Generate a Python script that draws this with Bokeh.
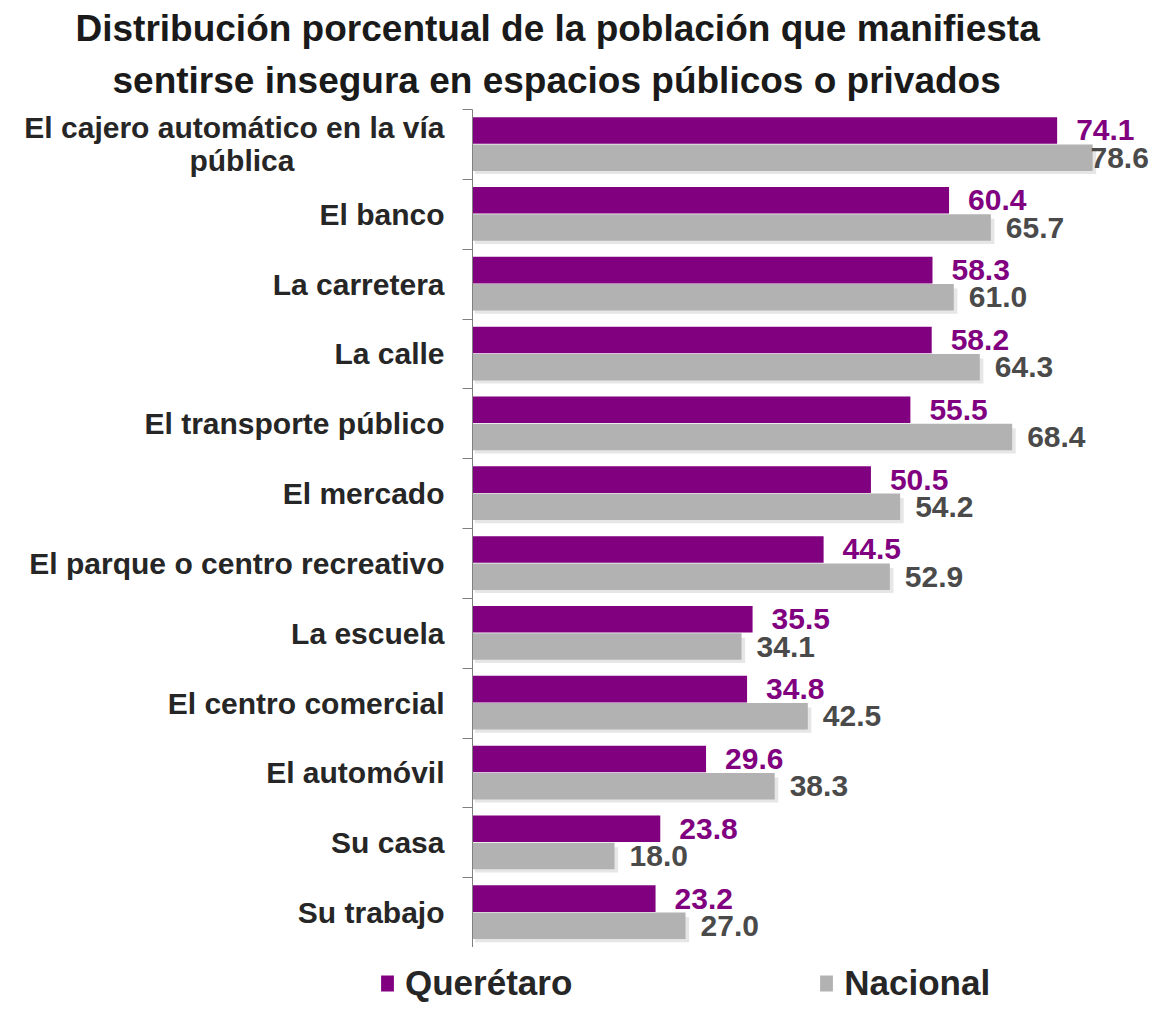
from bokeh.plotting import figure
from bokeh.layouts import column, row
from bokeh.models import (Range1d, FixedTicker, ColumnDataSource, Legend, LegendItem, Title)
from bokeh.core.properties import value
from bokeh.embed import file_html
from bokeh.resources import INLINE

NB = "\u00a0"
categories = ["El cajero automático en la vía\n" + NB * 18 + "pública" + NB * 18, "El banco", "La carretera", "La calle",
              "El transporte público", "El mercado", "El parque o centro recreativo",
              "La escuela", "El centro comercial", "El automóvil", "Su casa", "Su trabajo"]
queretaro = [74.1, 60.4, 58.3, 58.2, 55.5, 50.5, 44.5, 35.5, 34.8, 29.6, 23.8, 23.2]
nacional = [78.6, 65.7, 61.0, 64.3, 68.4, 54.2, 52.9, 34.1, 42.5, 38.3, 18.0, 27.0]
series_names = ["Querétaro", "Nacional"]
title_lines = ["Distribución porcentual de la población que manifiesta",
               "sentirse insegura en espacios públicos o privados"]

PURPLE = "#800080"
GRAY = "#b2b2b2"
FONT = "Liberation Sans"

W, H = 1151, 1003
LEFT, TOP, LEG_H = 472, 109, 56
X_END = 86.06
px_per_unit = (W - LEFT) / X_END

n = len(categories)
centers = [i + 0.5 for i in range(n)]
q_pos = [c - 0.2 for c in centers]
n_pos = [c + 0.19 for c in centers]
sh_pos = [c + 0.245 for c in centers]

# keep the value labels inside the canvas
lab_w = 60
n_off = [min(15, (W - 1) - lab_w - (LEFT + v * px_per_unit)) for v in nacional]

src = ColumnDataSource(dict(
    q=queretaro, nv=nacional, qy=q_pos, ny=n_pos, shy=sh_pos,
    nsh=[v + 0.45 for v in nacional], noff=n_off,
    qt=[f"{v:.1f}" for v in queretaro], nt=[f"{v:.1f}" for v in nacional],
))

p = figure(width=W, height=H - LEG_H, output_backend="svg", toolbar_location=None,
           x_range=Range1d(0, X_END), y_range=Range1d(n, 0),
           min_border_left=LEFT, min_border_right=0, min_border_top=TOP, min_border_bottom=0)
p.outline_line_color = None
p.grid.visible = False
p.xaxis.visible = False
p.title.visible = False

p.hbar(y="shy", right="nsh", height=0.36, left=0.3, source=src, fill_color="#9a9a9a",
       fill_alpha=0.25, line_color=None)
p.hbar(y="qy", right="q", height=0.38, left=0, source=src, fill_color=PURPLE, line_color=None)
p.hbar(y="ny", right="nv", height=0.38, left=0, source=src, fill_color=GRAY, line_color=None)

p.text(x="q", y="qy", text="qt", source=src, x_offset=19, text_baseline="middle",
       text_align="left", text_font=value(FONT), text_font_style="bold",
       text_font_size="30px", text_color=PURPLE)
p.text(x="nv", y="ny", text="nt", source=src, x_offset="noff", text_baseline="middle",
       text_align="left", text_font=value(FONT), text_font_style="bold",
       text_font_size="30px", text_color="#4a4a4a")

ax = p.yaxis[0]
ax.ticker = FixedTicker(ticks=centers, minor_ticks=list(range(n + 1)))
ax.major_label_overrides = {c: lab for c, lab in zip(centers, categories)}
ax.major_tick_out = 0
ax.major_tick_in = 0
ax.minor_tick_out = 10
ax.minor_tick_in = 0
ax.minor_tick_line_color = "#808080"
ax.axis_line_color = "#808080"
ax.major_label_standoff = 18
ax.major_label_text_font = FONT
ax.major_label_text_font_style = "bold"
ax.major_label_text_font_size = "30px"
ax.major_label_text_line_height = 1.0
ax.major_label_text_color = "#262626"

offsets = [-397, -360]
for i, (line, off) in enumerate(reversed(list(zip(title_lines, offsets)))):
    t = Title(text=line, align="left", offset=off, text_font=FONT, text_font_style="bold",
              text_font_size="37px", text_color="#1a1a1a", standoff=18 if i == 0 else 0)
    p.add_layout(t, "above")

# legend strip (its renderers use the same data, kept outside its visible range)
lg = figure(width=W, height=LEG_H, output_backend="svg", toolbar_location=None,
            x_range=Range1d(-2, -1), y_range=Range1d(0, 1),
            min_border_left=0, min_border_right=0, min_border_top=0, min_border_bottom=0)
lg.outline_line_color = None
lg.grid.visible = False
lg.axis.visible = False
lg.title.visible = False
r1 = lg.hbar(y="qy", right="q", left=0, height=0.38, source=src, fill_color=PURPLE, line_color=None)
r2 = lg.hbar(y="ny", right="nv", left=0, height=0.38, source=src, fill_color=GRAY, line_color=None)
legend = Legend(items=[LegendItem(label=series_names[0], renderers=[r1]),
                       LegendItem(label=series_names[1], renderers=[r2])],
                orientation="horizontal", location=(379, 0),
                label_text_font=FONT, label_text_font_style="bold", label_text_font_size="35px",
                label_text_color="#262626", glyph_width=16, glyph_height=20,
                label_standoff=10, spacing=246, border_line_color=None,
                background_fill_alpha=0, padding=0, margin=0)
lg.add_layout(legend, "center")

layout = column(p, row(lg, spacing=0), spacing=0)
open("out.html", "w").write(file_html(layout, INLINE))
